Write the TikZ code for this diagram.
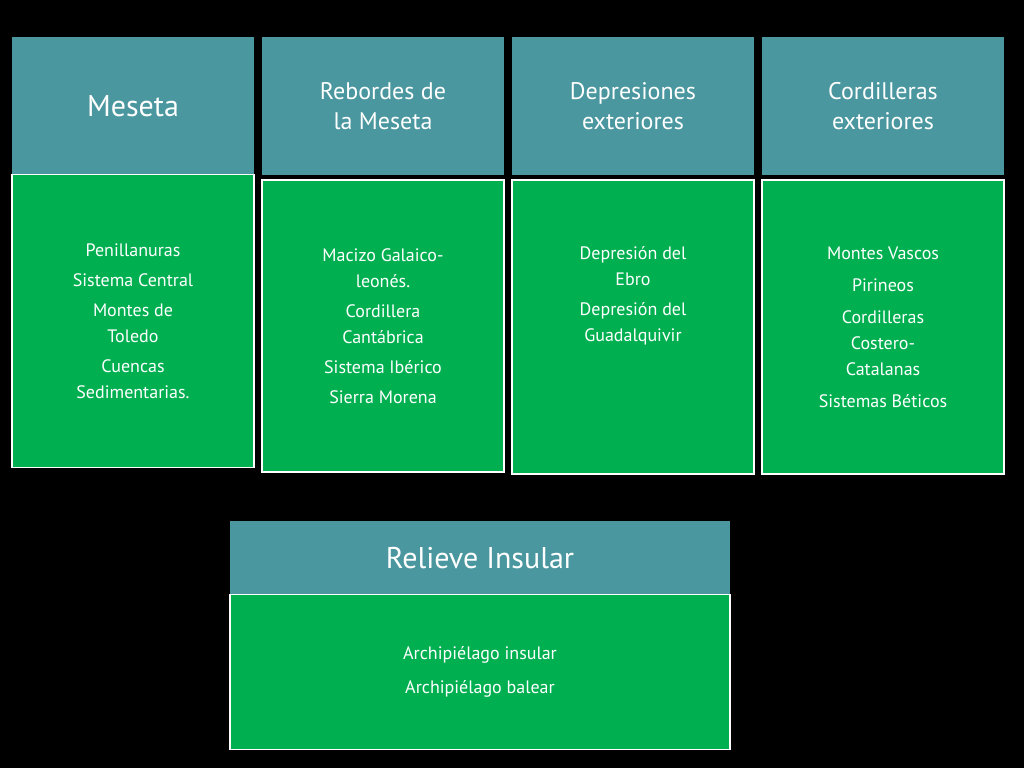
\documentclass[tikz,border=0pt]{standalone}
\usepackage{fontspec}
\setmainfont{PT Sans}
\usetikzlibrary{positioning}
\definecolor{teal}{HTML}{4A979F}
\definecolor{leaf}{HTML}{00B050}
\tikzset{
  head/.style={fill=teal, text=white, minimum width=242pt, minimum height=138pt,
    align=center, font=\fontsize{24}{30}\selectfont, inner sep=0pt},
  body/.style={fill=leaf, draw=white, line width=1.5pt, text=white, minimum width=242pt,
    align=center, font=\fontsize{18}{26}\selectfont, inner sep=0pt}
}
\begin{document}
\begin{tikzpicture}[x=1pt,y=-1pt]
  \fill[black] (0,0) rectangle (1024,768);
  \useasboundingbox (0,0) rectangle (1024,768);

  \node[head]  (H1) at (133,106) {\fontsize{30}{36}\selectfont Meseta};
  \node[head]  (H2) at (383,106) {Rebordes de\\la Meseta};
  \node[head]  (H3) at (633,106) {Depresiones\\exteriores};
  \node[head]  (H4) at (883,106) {Cordilleras\\exteriores};

  \node[body, minimum height=293pt] (B1) at (133,321)
    {Penillanuras\\[4pt]Sistema Central\\[4pt]Montes de\\Toledo\\[4pt]Cuencas\\Sedimentarias.};
  \node[body, minimum height=292pt] (B2) at (383,326)
    {Macizo Galaico-\\leonés.\\[4pt]Cordillera\\Cantábrica\\[4pt]Sistema Ibérico\\[4pt]Sierra Morena};
  \node[body, minimum height=294pt] (B3) at (633,327)
    {Depresión del\\Ebro\\[4pt]Depresión del\\Guadalquivir\\[40pt]};
  \node[body, minimum height=294pt] (B4) at (883,327)
    {Montes Vascos\\[6pt]Pirineos\\[6pt]Cordilleras\\Costero-\\Catalanas\\[6pt]Sistemas Béticos};

  \node[head, minimum width=500pt, minimum height=75pt, font=\fontsize{30}{36}\selectfont]
    (H5) at (480,558) {Relieve Insular};
  \node[body, minimum width=500pt, minimum height=155pt] (B5) at (480,672)
    {Archipiélago insular\\[8pt]Archipiélago balear};
\end{tikzpicture}
\end{document}
